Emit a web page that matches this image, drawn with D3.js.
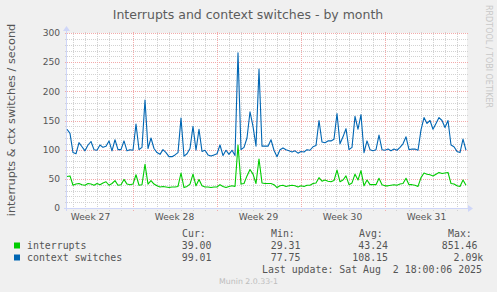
<!DOCTYPE html>
<html>
<head>
<meta charset="utf-8">
<title>Interrupts and context switches - by month</title>
<script src="https://cdn.jsdelivr.net/npm/d3@7"></script>
<style>
  body { margin: 0; background: #f0f0f0; }
  svg { display: block; }
  text { white-space: pre; }
  .title { font: 12.5px "DejaVu Sans"; fill: #5c5c5c; }
  .tick { font: 9.1px "DejaVu Sans"; fill: #555; }
  .ylabel { font: 11.3px "DejaVu Sans"; fill: #555; }
  .legend { font: 9.9px "DejaVu Sans Mono"; fill: #555; }
  .mark { font: 8px "DejaVu Sans"; fill: #c8c8c8; }
  .munin { font: 7.8px "DejaVu Sans"; fill: #bdbdbd; }
</style>
</head>
<body>
<svg id="chart" width="497" height="292"></svg>
<script>

// one sample every 6 hours, starting Mon Jun 30 2025 13:00
var start = new Date(2025, 5, 30, 13);
var end = new Date(2025, 7, 2, 21);
var stepHours = 6;

var interrupts = [
  54, 55, 39, 41, 42, 40, 39, 42, 41, 39, 42, 40, 43, 45, 39, 42, 47, 39, 40, 49,
  41, 40, 41, 57, 39, 40, 75, 41, 47, 41, 38, 36, 37, 36,
  35, 36, 36, 37, 60, 35, 37, 41, 58, 38, 49, 38, 36, 36, 35, 36, 36, 40, 37, 35,
  37, 38, 37, 108, 41, 42, 55, 66, 58, 42, 84, 43, 42, 42,
  42, 40, 35, 38, 39, 37, 38, 39, 38, 36, 38, 37, 39, 39, 42, 43, 52, 46, 48, 46,
  45, 47, 65, 45, 48, 55, 40, 43, 58, 48, 64, 38, 48, 40,
  40, 40, 51, 40, 38, 38, 39, 40, 39, 41, 42, 51, 40, 40, 39, 37, 52, 60, 58, 57,
  55, 58, 61, 59, 60, 61, 42, 41, 38, 37, 48, 39
];

var contextSwitches = [
  135, 128, 95, 93, 112, 105, 98, 108, 114, 100, 99, 108, 104, 106, 115, 98, 117, 100, 100, 115,
  98, 100, 99, 144, 100, 104, 185, 102, 120, 102, 95, 92, 100, 95,
  88, 88, 91, 95, 154, 89, 93, 102, 140, 99, 135, 97, 99, 91, 89, 91, 93, 108, 90, 99,
  92, 99, 90, 266, 100, 104, 120, 165, 140, 106, 238, 106, 106, 106,
  117, 99, 88, 100, 103, 100, 98, 96, 98, 94, 97, 96, 100, 99, 105, 107, 150, 113, 112, 115,
  115, 118, 162, 110, 122, 136, 100, 104, 157, 135, 160, 95, 115, 100,
  98, 100, 125, 100, 99, 101, 98, 101, 99, 104, 110, 122, 100, 101, 101, 99, 134, 155, 145, 150,
  135, 145, 155, 150, 138, 150, 108, 105, 97, 95, 118, 99
];

var yTicks = [0, 50, 100, 150, 200, 250, 300];
var weekLabels = ["Week 27", "Week 28", "Week 29", "Week 30", "Week 31"];

var seriesNames = ["interrupts", "context switches"];
var seriesColors = ["#00cc00", "#0066b3"];
var legendCur = ["39.00", "99.01"];
var legendMin = ["29.31", "77.75"];
var legendAvg = [" 43.24", "108.15"];
var legendMax = ["851.46 ", "  2.09k"];

var x0 = 67, x1 = 467, yTop = 33, yBot = 208;

var svg = d3.select("#chart");

svg.append("rect")
  .attr("width", 497).attr("height", 292)
  .attr("fill", "#f0f0f0");

svg.append("rect")
  .attr("x", x0).attr("y", yTop)
  .attr("width", x1 - x0).attr("height", yBot - yTop)
  .attr("fill", "#ffffff");

var x = d3.scaleTime().domain([start, end]).range([x0, x1]);
var y = d3.scaleLinear().domain([0, 300]).range([yBot, yTop]);

var times = interrupts.map(function(d, i) { return d3.timeHour.offset(start, i * stepHours); });

function px(v) { return Math.round(v) + 0.5; }

// minor grid
var minorY = d3.range(10, 300, 10).filter(function(v) { return v % 50 != 0; });
var minorX = d3.timeDay.range(start, end).filter(function(d) { return d.getDay() != 0; });
var sundays = d3.timeSunday.range(start, end);

var grid = svg.append("g");

grid.selectAll(".hminor").data(minorY).enter().append("line")
  .attr("x1", x0 - 2).attr("x2", x1 + 1)
  .attr("y1", function(d) { return px(y(d)); })
  .attr("y2", function(d) { return px(y(d)); })
  .attr("stroke", "#d2d2d2").attr("stroke-dasharray", "1,1");

grid.selectAll(".vminor").data(minorX).enter().append("line")
  .attr("x1", function(d) { return px(x(d)); })
  .attr("x2", function(d) { return px(x(d)); })
  .attr("y1", yTop - 1).attr("y2", yBot + 3)
  .attr("stroke", "#d2d2d2").attr("stroke-dasharray", "1,1");

grid.selectAll(".hmajor").data(yTicks).enter().append("line")
  .attr("x1", x0 - 2).attr("x2", x1 + 1)
  .attr("y1", function(d) { return px(y(d)); })
  .attr("y2", function(d) { return px(y(d)); })
  .attr("stroke", "#f2aaaa").attr("stroke-dasharray", "1,1");

grid.selectAll(".vmajor").data(sundays).enter().append("line")
  .attr("x1", function(d) { return px(x(d)); })
  .attr("x2", function(d) { return px(x(d)); })
  .attr("y1", yTop - 1).attr("y2", yBot + 3)
  .attr("stroke", "#f2aaaa").attr("stroke-dasharray", "1,1");

// axes
var axisColor = "#cfd6f8";
svg.append("line")
  .attr("x1", x0 - 3).attr("x2", x1 + 2)
  .attr("y1", yBot + 0.5).attr("y2", yBot + 0.5)
  .attr("stroke", axisColor);
svg.append("path")
  .attr("d", "M" + (x1 + 1) + "," + (yBot - 3) + "L" + (x1 + 6) + "," + (yBot + 0.5) + "L" + (x1 + 1) + "," + (yBot + 4) + "Z")
  .attr("fill", axisColor);
svg.append("line")
  .attr("x1", x0 - 0.5).attr("x2", x0 - 0.5)
  .attr("y1", yBot + 3).attr("y2", yTop - 2)
  .attr("stroke", axisColor);
svg.append("path")
  .attr("d", "M" + (x0 - 4) + "," + (yTop - 2) + "L" + (x0 - 0.5) + "," + (yTop - 7) + "L" + (x0 + 3) + "," + (yTop - 2) + "Z")
  .attr("fill", axisColor);

// y tick labels
svg.selectAll(".ylab").data(yTicks).enter().append("text")
  .attr("class", "tick")
  .attr("x", 60)
  .attr("y", function(d) { return y(d) + 3.3; })
  .attr("text-anchor", "end")
  .text(function(d) { return d; });

// week labels, centred in each week (week ends on the Sunday line)
var weekMid = d3.timeSunday.range(d3.timeSunday.ceil(start), d3.timeDay.offset(end, 7))
  .map(function(d) { return d3.timeHour.offset(d, -84); })
  .filter(function(d) { return d > start && d < end; });

svg.selectAll(".xlab").data(weekMid).enter().append("text")
  .attr("class", "tick")
  .attr("x", function(d) { return x(d); })
  .attr("y", 219.5)
  .attr("text-anchor", "middle")
  .text(function(d, i) { return weekLabels[i]; });

// lines
var line = d3.line()
  .x(function(d, i) { return x(times[i]); })
  .y(function(d) { return y(d); });

[interrupts, contextSwitches].forEach(function(s, k) {
  svg.append("path")
    .datum(s)
    .attr("d", line)
    .attr("fill", "none")
    .attr("stroke", seriesColors[k])
    .attr("stroke-width", 1.1)
    .attr("stroke-linejoin", "round");
});

// titles
svg.append("text").attr("class", "title")
  .attr("x", 248).attr("y", 19)
  .attr("text-anchor", "middle")
  .text("Interrupts and context switches - by month");

svg.append("text").attr("class", "ylabel")
  .attr("transform", "translate(15,120) rotate(-90)")
  .attr("text-anchor", "middle")
  .text("interrupts & ctx switches / second");

svg.append("text").attr("class", "mark")
  .attr("transform", "translate(486,5) rotate(90)")
  .text("RRDTOOL / TOBI OETIKER");

// legend
var hdr = svg.append("g").attr("class", "legend");
hdr.append("text").attr("x", 182).attr("y", 237).text("Cur:");
hdr.append("text").attr("x", 271).attr("y", 237).text("Min:");
hdr.append("text").attr("x", 359).attr("y", 237).text("Avg:");
hdr.append("text").attr("x", 448).attr("y", 237).text("Max:");

var rows = svg.selectAll(".row").data(seriesNames).enter().append("g")
  .attr("class", "legend")
  .attr("transform", function(d, i) { return "translate(0," + (249 + i * 12) + ")"; });

rows.append("rect")
  .attr("x", 14).attr("y", -6.5)
  .attr("width", 6).attr("height", 6)
  .attr("fill", function(d, i) { return seriesColors[i]; });
rows.append("text").attr("x", 27).text(function(d) { return d; });
rows.append("text").attr("x", 181.7).text(function(d, i) { return legendCur[i]; });
rows.append("text").attr("x", 270.7).text(function(d, i) { return legendMin[i]; });
rows.append("text").attr("x", 352.3).text(function(d, i) { return legendAvg[i]; });
rows.append("text").attr("x", 441.7).text(function(d, i) { return legendMax[i]; });

svg.append("text").attr("class", "legend")
  .attr("x", 262).attr("y", 273)
  .text("Last update: Sat Aug  2 18:00:06 2025");

svg.append("text").attr("class", "munin")
  .attr("x", 248.5).attr("y", 284)
  .attr("text-anchor", "middle")
  .text("Munin 2.0.33-1");

</script>
</body>
</html>
